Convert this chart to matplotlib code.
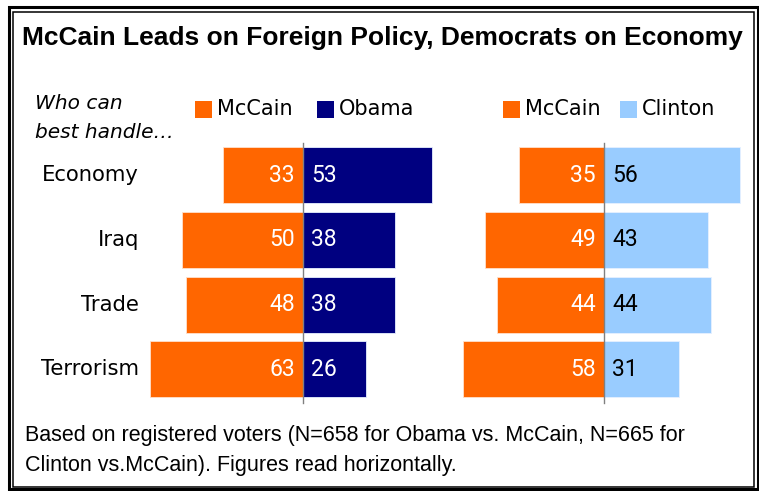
import matplotlib
matplotlib.use('Agg')
import matplotlib.pyplot as plt
from matplotlib.patches import Rectangle

# data
categories = ['Economy', 'Iraq', 'Trade', 'Terrorism']
mccain_vs_obama = [33, 50, 48, 63]
obama = [53, 38, 38, 26]
mccain_vs_clinton = [35, 49, 44, 58]
clinton = [56, 43, 44, 31]

title = 'McCain Leads on Foreign Policy, Democrats on Economy'
footnote = ['Based on registered voters (N=658 for Obama vs. McCain, N=665 for',
            'Clinton vs.McCain). Figures read horizontally.']

ORANGE = '#FF6600'
NAVY = '#000080'
LIGHT_BLUE = '#99CCFF'

W, H = 759, 491
PX_PER_UNIT = 2.43   # horizontal pixels per percentage point
ROW_PX = 64.8        # vertical distance between rows

fig = plt.figure(figsize=(W / 100, H / 100), dpi=100)

# background axes in pixel coordinates for frame, title and labels
bg = fig.add_axes([0, 0, 1, 1])
bg.set_xlim(0, W)
bg.set_ylim(H, 0)
bg.axis('off')


def px_axes(x0, y0, x1, y1):
    return fig.add_axes([x0 / W, 1 - y1 / H, (x1 - x0) / W, (y1 - y0) / H])


def draw_panel(x0, x1, center, left_vals, right_vals, right_color, right_txt):
    top, bottom = 140, 405
    ax = px_axes(x0, top, x1, bottom)
    ax.set_xlim(-(center - x0) / PX_PER_UNIT, (x1 - center) / PX_PER_UNIT)
    ax.set_ylim(len(categories) - 1 + (bottom - 369.4) / ROW_PX, -(175 - top) / ROW_PX)
    ax.axis('off')
    ypos = list(range(len(categories)))
    ax.barh(ypos, [-v for v in left_vals], height=0.865, color=ORANGE,
            edgecolor='#FFE0CC', linewidth=0.6)
    ax.barh(ypos, right_vals, height=0.865, color=right_color,
            edgecolor='#E6F0FF', linewidth=0.6)
    ax.axvline(0, ymin=(bottom - 403) / (bottom - top), ymax=(bottom - 143) / (bottom - top),
               color='#808080', linewidth=1)
    for i, (l, r) in enumerate(zip(left_vals, right_vals)):
        ax.annotate(str(l), (0, i), xytext=(-8, 0), textcoords='offset pixels',
                    ha='right', va='center', color='white', fontsize=16.5, family='Roboto')
        ax.annotate(str(r), (0, i), xytext=(8, 0), textcoords='offset pixels',
                    ha='left', va='center', color=right_txt, fontsize=16.5, family='Roboto')
    return ax


draw_panel(140, 460, 303, mccain_vs_obama, obama, NAVY, 'white')
draw_panel(455, 750, 604, mccain_vs_clinton, clinton, LIGHT_BLUE, 'black')

# category labels
for i, cat in enumerate(categories):
    bg.text(139, 175 + i * ROW_PX, cat, ha='right', va='center',
            fontsize=15.2, family='DejaVu Sans')

# subtitle
bg.text(35, 103, 'Who can', ha='left', va='center', fontsize=14.5,
        style='italic', family='DejaVu Sans')
bg.text(35, 133, 'best handle\u2026', ha='left', va='center', fontsize=14.5,
        style='italic', family='DejaVu Sans')

# legends
legend_items = [(195, ORANGE, 'McCain'), (317, NAVY, 'Obama'),
                (503, ORANGE, 'McCain'), (620, LIGHT_BLUE, 'Clinton')]
for x, color, label in legend_items:
    bg.add_patch(Rectangle((x, 101), 16.5, 16.5, facecolor=color, edgecolor='none'))
    bg.text(x + 22, 109, label, ha='left', va='center', fontsize=15, family='DejaVu Sans')

# title
bg.text(382, 45, title, ha='center', va='baseline', fontsize=19,
        fontweight='bold', family='Liberation Sans')

# footnote
for j, line in enumerate(footnote):
    bg.text(25, 436 + j * 29, line, ha='left', va='center', fontsize=15.5,
            family='Liberation Sans')

# double frame
bg.add_patch(Rectangle((8.5, 6.5), 749, 482.5, fill=False, edgecolor='black', linewidth=2.2))
bg.add_patch(Rectangle((13, 12), 741, 475, fill=False, edgecolor='black', linewidth=1.1))

fig.savefig('out.png', dpi=100)
